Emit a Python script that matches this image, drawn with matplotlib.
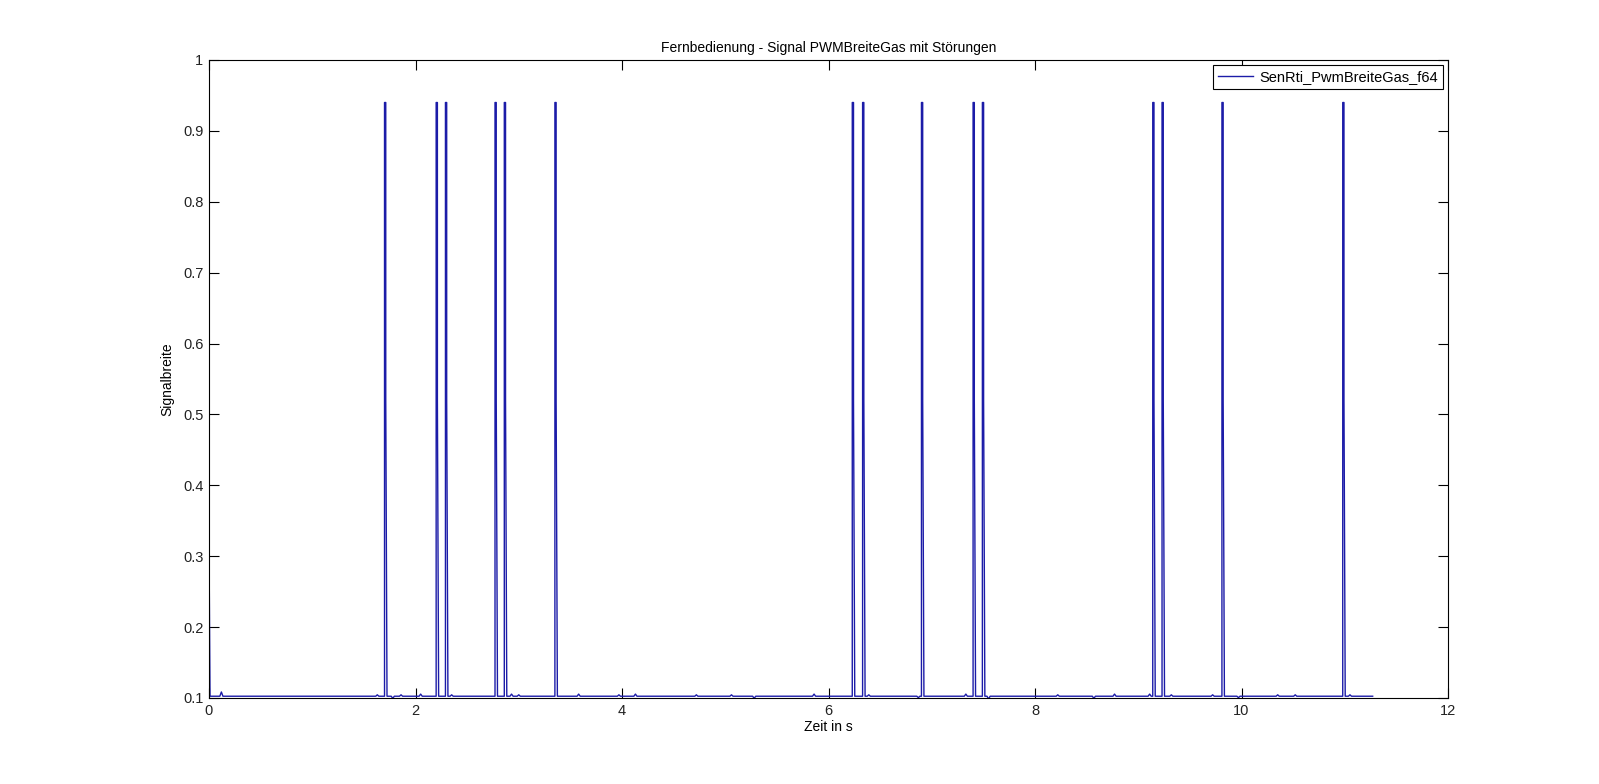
import numpy as np
import matplotlib
matplotlib.use("Agg")
import matplotlib.pyplot as plt

plt.rcParams['font.family'] = ['Liberation Sans', 'DejaVu Sans']

# Signal data
start_value = 0.32
baseline = 0.1025
end_time = 11.27
spike_times = [1.70, 2.20, 2.29, 2.77, 2.86, 3.35, 6.23, 6.33, 6.90,
               7.40, 7.49, 9.14, 9.23, 9.81, 10.98]
spike_peak = 0.94
spike_mid = 0.52
spike_width = 0.012
# small disturbances on the baseline (time, offset)
blip_times = [0.12, 1.63, 1.78, 1.86, 2.05, 2.35, 2.93, 3.0, 3.58, 3.97,
              4.13, 4.72, 5.06, 5.28, 5.86, 6.39, 6.87, 7.33, 7.55, 8.22,
              8.57, 8.77, 9.11, 9.32, 9.72, 9.97, 10.35, 10.52, 11.05]
blip_offsets = [0.006, 0.002, -0.003, 0.002, 0.003, 0.002, 0.003, 0.002, 0.003, 0.002,
                0.003, 0.002, 0.002, -0.003, 0.003, 0.002, -0.002, 0.003, -0.004, 0.002,
                -0.003, 0.003, 0.003, 0.002, 0.002, -0.002, 0.002, 0.002, 0.002]

# Zeitreihe zusammensetzen
events = []
for t in spike_times:
    events.append(("spike", t, 0.0))
for t, o in zip(blip_times, blip_offsets):
    events.append(("blip", t, o))
events.sort(key=lambda e: e[1])

t_data = [0.0, 0.0, 0.01]
y_data = [start_value, start_value, baseline]
for kind, t, o in events:
    if kind == "spike":
        t_data += [t, t, t + spike_width, t + spike_width, t + 2 * spike_width]
        y_data += [baseline, spike_peak, spike_peak, spike_mid, baseline]
    else:
        t_data += [t - 0.015, t, t + 0.015]
        y_data += [baseline, baseline + o, baseline]
t_data.append(end_time)
y_data.append(baseline)

fig = plt.figure(figsize=(15.99, 7.84), dpi=100)
ax = fig.add_axes([0.1307, 0.1097, 0.7749, 0.8138])
ax.plot(t_data, y_data, color='#1c1ca8', linewidth=1.0,
        label='SenRti_PwmBreiteGas_f64')

ax.set_xlim(0, 12)
ax.set_ylim(0.1, 1.0)
ax.set_xticks(np.arange(0, 13, 2))
ax.set_yticks(np.arange(0.1, 1.01, 0.1))
ax.set_yticklabels(['0.1', '0.2', '0.3', '0.4', '0.5', '0.6', '0.7', '0.8', '0.9', '1'])
ax.tick_params(direction='in', top=True, right=True, length=7, width=0.8,
               labelsize=10.5, pad=4, labelcolor='#222222')
for s in ax.spines.values():
    s.set_linewidth(0.8)

ax.set_title('Fernbedienung - Signal PWMBreiteGas mit Störungen', fontsize=10, pad=6)
ax.set_xlabel('Zeit in s', fontsize=10, labelpad=2)
ax.set_ylabel('Signalbreite', fontsize=10, labelpad=6)

leg = ax.legend(loc='upper right', fontsize=10.5, fancybox=False, framealpha=1,
                edgecolor='black', borderaxespad=0.35, handlelength=2.4,
                handletextpad=0.4, borderpad=0.35)
leg.get_frame().set_linewidth(0.8)

fig.savefig('out.png', dpi=100)
